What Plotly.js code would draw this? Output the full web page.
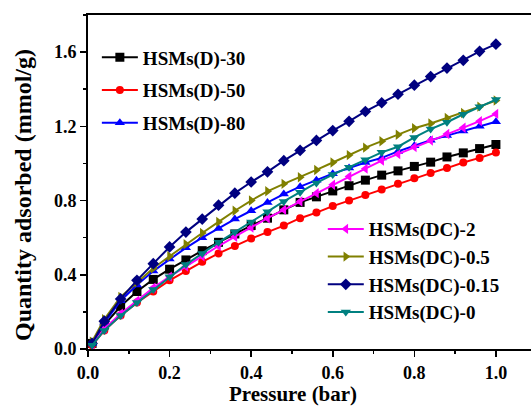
<!DOCTYPE html>
<html><head><meta charset="utf-8">
<script src="https://cdn.plot.ly/plotly-3.0.1.min.js"></script>
<style>html,body{margin:0;padding:0;background:#fff}#chart{width:531px;height:408px}</style>
</head><body><div id="chart"></div>
<script>
const pressure = [0.01,0.04,0.08,0.12,0.16,0.20,0.24,0.28,0.32,0.36,0.40,0.44,0.48,0.52,0.56,0.60,0.64,0.68,0.72,0.76,0.80,0.84,0.88,0.92,0.96,1.00];
const D30   = [0.03,0.13,0.23,0.31,0.375,0.43,0.48,0.53,0.575,0.62,0.665,0.705,0.75,0.79,0.82,0.852,0.88,0.91,0.937,0.96,0.984,1.007,1.035,1.057,1.08,1.102];
const D50   = [0.02,0.10,0.18,0.25,0.31,0.37,0.42,0.47,0.515,0.555,0.595,0.63,0.665,0.705,0.735,0.77,0.80,0.83,0.86,0.89,0.92,0.948,0.975,1.005,1.03,1.059];
const D80   = [0.03,0.14,0.26,0.345,0.42,0.485,0.545,0.60,0.65,0.70,0.745,0.79,0.835,0.875,0.91,0.945,0.975,1.005,1.03,1.065,1.095,1.125,1.15,1.175,1.20,1.225];
const DC2   = [0.02,0.11,0.19,0.26,0.33,0.39,0.445,0.50,0.555,0.605,0.655,0.705,0.75,0.795,0.84,0.885,0.93,0.972,1.015,1.05,1.088,1.124,1.159,1.192,1.228,1.267];
const DC05  = [0.04,0.16,0.28,0.36,0.435,0.50,0.565,0.625,0.685,0.745,0.80,0.85,0.89,0.926,0.965,1.005,1.045,1.085,1.12,1.155,1.19,1.215,1.245,1.272,1.306,1.339];
const DC015 = [0.03,0.15,0.27,0.37,0.46,0.55,0.63,0.70,0.775,0.84,0.90,0.955,1.015,1.07,1.124,1.177,1.227,1.28,1.327,1.373,1.422,1.468,1.514,1.556,1.604,1.643];
const DC0   = [0.02,0.10,0.18,0.25,0.32,0.39,0.455,0.515,0.575,0.63,0.685,0.74,0.795,0.845,0.895,0.94,0.98,1.02,1.06,1.09,1.14,1.185,1.222,1.265,1.305,1.344];

const names   = ['HSMs(D)-30','HSMs(D)-50','HSMs(D)-80','HSMs(DC)-2','HSMs(DC)-0.5','HSMs(DC)-0.15','HSMs(DC)-0'];
const series  = [D30, D50, D80, DC2, DC05, DC015, DC0];
const colors  = ['#000000','#ff0000','#0000ff','#ff00ff','#808000','#000080','#008080'];
const symbols = ['square','circle','triangle-up','triangle-left','triangle-right','diamond','triangle-down'];
const legendOf = ['legend','legend','legend','legend2','legend2','legend2','legend2'];

const traces = series.map((ys,i)=>({
  x: pressure, y: ys, name: names[i], type:'scatter', mode:'lines+markers',
  line:{color:colors[i], width:2},
  marker:{color:colors[i], symbol:symbols[i], size: symbols[i]==='circle'?8:9},
  legend: legendOf[i], legendgroup: 'g'+i, cliponaxis:false
}));

const F = 'Liberation Serif, Times New Roman, serif';
const layout = {
  width:531, height:408,
  margin:{l:88, r:0, t:15, b:59},
  paper_bgcolor:'#fff', plot_bgcolor:'#fff',
  showlegend:true,
  xaxis:{range:[0,1.086], tickvals:[0,0.2,0.4,0.6,0.8,1.0], ticktext:['0.0','0.2','0.4','0.6','0.8','1.0'],
    ticks:'outside', ticklen:6, tickwidth:1.5, tickcolor:'#000',
    minor:{dtick:0.1, tick0:0, ticks:'outside', ticklen:3, tickwidth:1.5, tickcolor:'#000'},
    showline:true, linewidth:2, linecolor:'#000', mirror:true, showgrid:false, zeroline:false,
    tickfont:{family:F, size:18, weight:'bold', color:'#000'}},
  yaxis:{range:[0,1.8], tickvals:[0,0.4,0.8,1.2,1.6], ticktext:['0.0','0.4','0.8','1.2','1.6'],
    ticks:'outside', ticklen:6, tickwidth:1.5, tickcolor:'#000',
    minor:{dtick:0.2, tick0:0, ticks:'outside', ticklen:3, tickwidth:1.5, tickcolor:'#000'},
    showline:true, linewidth:2, linecolor:'#000', showgrid:false, zeroline:false,
    tickfont:{family:F, size:18, weight:'bold', color:'#000'}},
  annotations:[
    {text:'Pressure (bar)', xref:'paper', yref:'paper', x:0.463, y:-0.1347, xanchor:'center', yanchor:'middle',
     showarrow:false, font:{family:F, size:21, weight:'bold', color:'#000'}},
    {text:'Quantity adsorbed (mmol/g)', xref:'paper', yref:'paper', x:-0.1467, y:0.461, xanchor:'center', yanchor:'middle',
     textangle:-90, showarrow:false, font:{family:F, size:24, weight:'bold', color:'#000'}}
  ],
  legend:{x:0.02, y:0.93, xanchor:'left', yanchor:'top', bgcolor:'rgba(0,0,0,0)', borderwidth:0, itemwidth:36,
    traceorder:'grouped', tracegroupgap:5, font:{family:F, size:19, weight:'bold', color:'#000'}},
  legend2:{x:0.53, y:0.416, xanchor:'left', yanchor:'top', bgcolor:'rgba(0,0,0,0)', borderwidth:0, itemwidth:36,
    traceorder:'grouped', tracegroupgap:0, font:{family:F, size:19, weight:'bold', color:'#000'}}
};
Plotly.newPlot('chart', traces, layout, {displayModeBar:false, staticPlot:true});
</script></body></html>
